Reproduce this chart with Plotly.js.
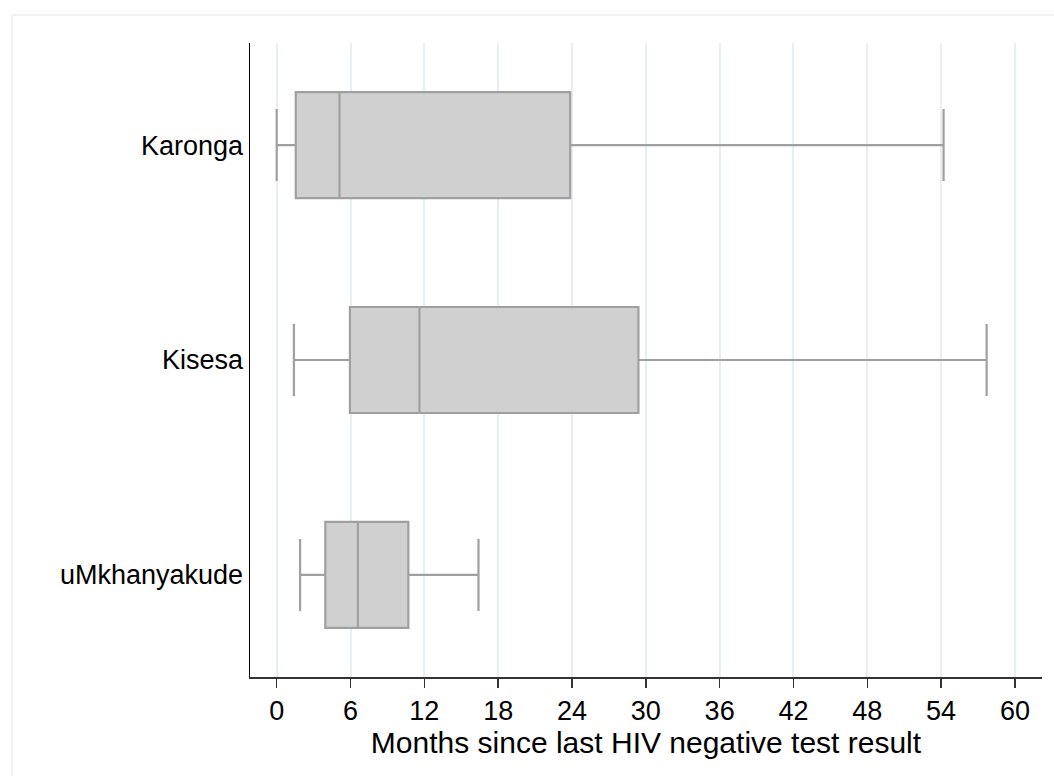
<!DOCTYPE html>
<html>
<head>
<meta charset="utf-8">
<script src="https://cdn.plot.ly/plotly-3.0.1.min.js"></script>
<style>html,body{margin:0;padding:0;background:#fff;} #chart{width:1054px;height:776px;}</style>
</head>
<body>
<div id="chart"></div>
<script>
const sites = ['Karonga', 'Kisesa', 'uMkhanyakude'];
const lowerWhisker = [0, 1.4, 1.9];
const q1 = [1.55, 5.95, 3.95];
const median = [5.1, 11.6, 6.6];
const q3 = [23.85, 29.4, 10.7];
const upperWhisker = [54.2, 57.7, 16.4];
const xTicks = [0, 6, 12, 18, 24, 30, 36, 42, 48, 54, 60];

const trace = {
  type: 'box',
  orientation: 'h',
  y: sites,
  lowerfence: lowerWhisker,
  q1: q1,
  median: median,
  q3: q3,
  upperfence: upperWhisker,
  width: 0.493,
  fillcolor: '#d0d0d0',
  line: {color: '#a0a0a0', width: 2.2},
  whiskerwidth: 0.68,
  boxpoints: false,
  hoverinfo: 'skip',
  showlegend: false
};

const layout = {
  width: 1054,
  height: 776,
  margin: {l: 250, r: 12, t: 43, b: 99},
  paper_bgcolor: '#ffffff',
  plot_bgcolor: '#ffffff',
  font: {family: 'Liberation Sans, Arial, sans-serif', color: '#000'},
  xaxis: {
    range: [-2.17, 62.2],
    tickmode: 'array',
    tickvals: xTicks,
    ticktext: xTicks.map(String),
    ticks: 'outside',
    ticklen: 9,
    tickwidth: 1.5,
    tickcolor: '#333',
    showline: true,
    linecolor: '#333',
    linewidth: 1.5,
    showgrid: true,
    gridcolor: '#e6eff2',
    gridwidth: 2,
    zeroline: false,
    tickfont: {size: 27, color: '#000'},
    title: {text: 'Months since last HIV negative test result', font: {size: 30, color: '#000'}, standoff: 6},
    automargin: false,
    fixedrange: true
  },
  yaxis: {
    type: 'category',
    categoryorder: 'array',
    categoryarray: sites,
    range: [2.475, -0.475],
    ticks: '',
    showline: true,
    linecolor: '#000',
    linewidth: 1.5,
    showgrid: false,
    zeroline: false,
    tickfont: {size: 27, color: '#000'},
    automargin: false,
    fixedrange: true
  },
  shapes: [{
    type: 'rect', xref: 'paper', yref: 'paper',
    x0: -0.3005, x1: 1.02, y0: -0.2, y1: 1.0442,
    line: {color: '#eeeeee', width: 1.5}, fillcolor: 'rgba(0,0,0,0)', layer: 'below'
  }]
};

Plotly.newPlot('chart', [trace], layout, {displayModeBar: false, staticPlot: true});
</script>
</body>
</html>
